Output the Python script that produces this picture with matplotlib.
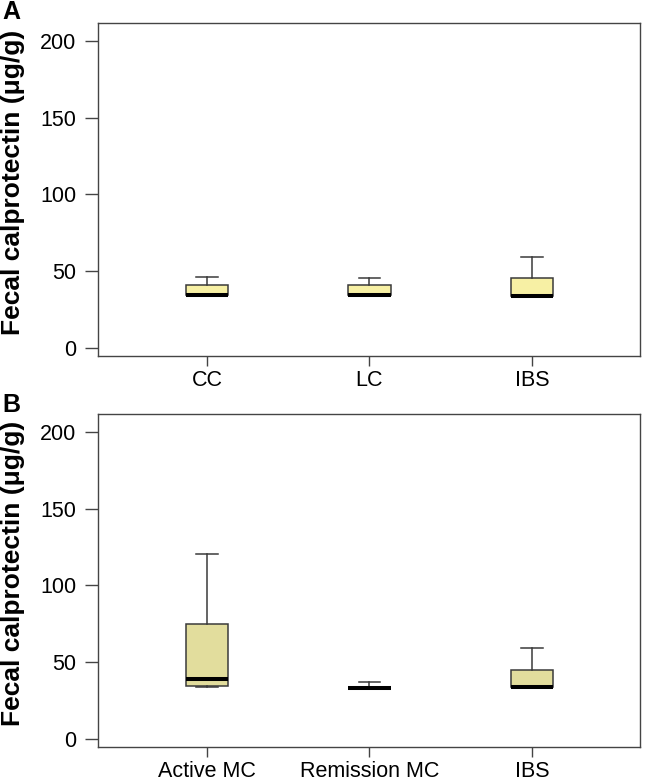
import matplotlib
matplotlib.use("Agg")
import matplotlib.pyplot as plt

plt.rcParams['font.family'] = ['Liberation Sans', 'DejaVu Sans']

# Panel A: collagenous / lymphocytic colitis vs IBS (min, q1, median, q3, max)
labels_a = ['CC', 'LC', 'IBS']
whislo_a = [34.5, 34.5, 34]
q1_a = [34.5, 34.5, 34]
med_a = [34.5, 34.5, 34]
q3_a = [41, 41, 45.5]
whishi_a = [46, 45.5, 59.5]

# Panel B: active / remission MC vs IBS
labels_b = ['Active MC', 'Remission MC', 'IBS']
whislo_b = [34, 33.5, 34]
q1_b = [34.5, 33.5, 34]
med_b = [39, 33.5, 34]
q3_b = [75, 33.5, 45]
whishi_b = [120.5, 37, 59]

yticks = [0, 50, 100, 150, 200]
ylab = 'Fecal calprotectin (\u03bcg/g)'


def make_stats(labels, lo, q1, med, q3, hi):
    stats = []
    for i in range(len(labels)):
        stats.append(dict(label=labels[i], whislo=lo[i], q1=q1[i], med=med[i],
                          q3=q3[i], whishi=hi[i], fliers=[]))
    return stats


def draw(ax, stats, fill):
    edge = '#3a3a3a'
    ax.bxp(stats, widths=0.26, patch_artist=True, showfliers=False,
           boxprops=dict(facecolor=fill, edgecolor=edge, linewidth=1.1),
           medianprops=dict(color='black', linewidth=2.9, solid_capstyle='butt'),
           whiskerprops=dict(color=edge, linewidth=1.1),
           capprops=dict(color=edge, linewidth=1.1), capwidths=0.13)
    ax.set_xlim(0.332, 3.665)
    ax.set_ylim(-5, 211.3)
    ax.set_yticks(yticks)
    ax.tick_params(axis='both', labelsize=15.5, width=1, color='#444444',
                   direction='out')
    ax.tick_params(axis='y', length=9.4, pad=6.5)
    ax.tick_params(axis='x', length=7.2, pad=3)
    for s in ax.spines.values():
        s.set_color('#444444')
        s.set_linewidth(1)
    ax.set_ylabel(ylab, fontsize=19, fontweight='bold')
    ax.yaxis.set_label_coords(-0.135, 0.522)


fig = plt.figure(figsize=(6.52, 7.82), dpi=100)
ax1 = fig.add_axes([0.151, 0.5451, 0.8306, 0.4251])
ax2 = fig.add_axes([0.151, 0.0451, 0.8306, 0.4251])

draw(ax1, make_stats(labels_a, whislo_a, q1_a, med_a, q3_a, whishi_a), '#f7f0a4')
draw(ax2, make_stats(labels_b, whislo_b, q1_b, med_b, q3_b, whishi_b), '#e2dd9d')

fig.text(0.004, 1.0, 'A', fontsize=18, fontweight='bold', va='top', ha='left')
fig.text(0.004, 0.4975, 'B', fontsize=18, fontweight='bold', va='top', ha='left')

fig.savefig('out.png', dpi=100)
